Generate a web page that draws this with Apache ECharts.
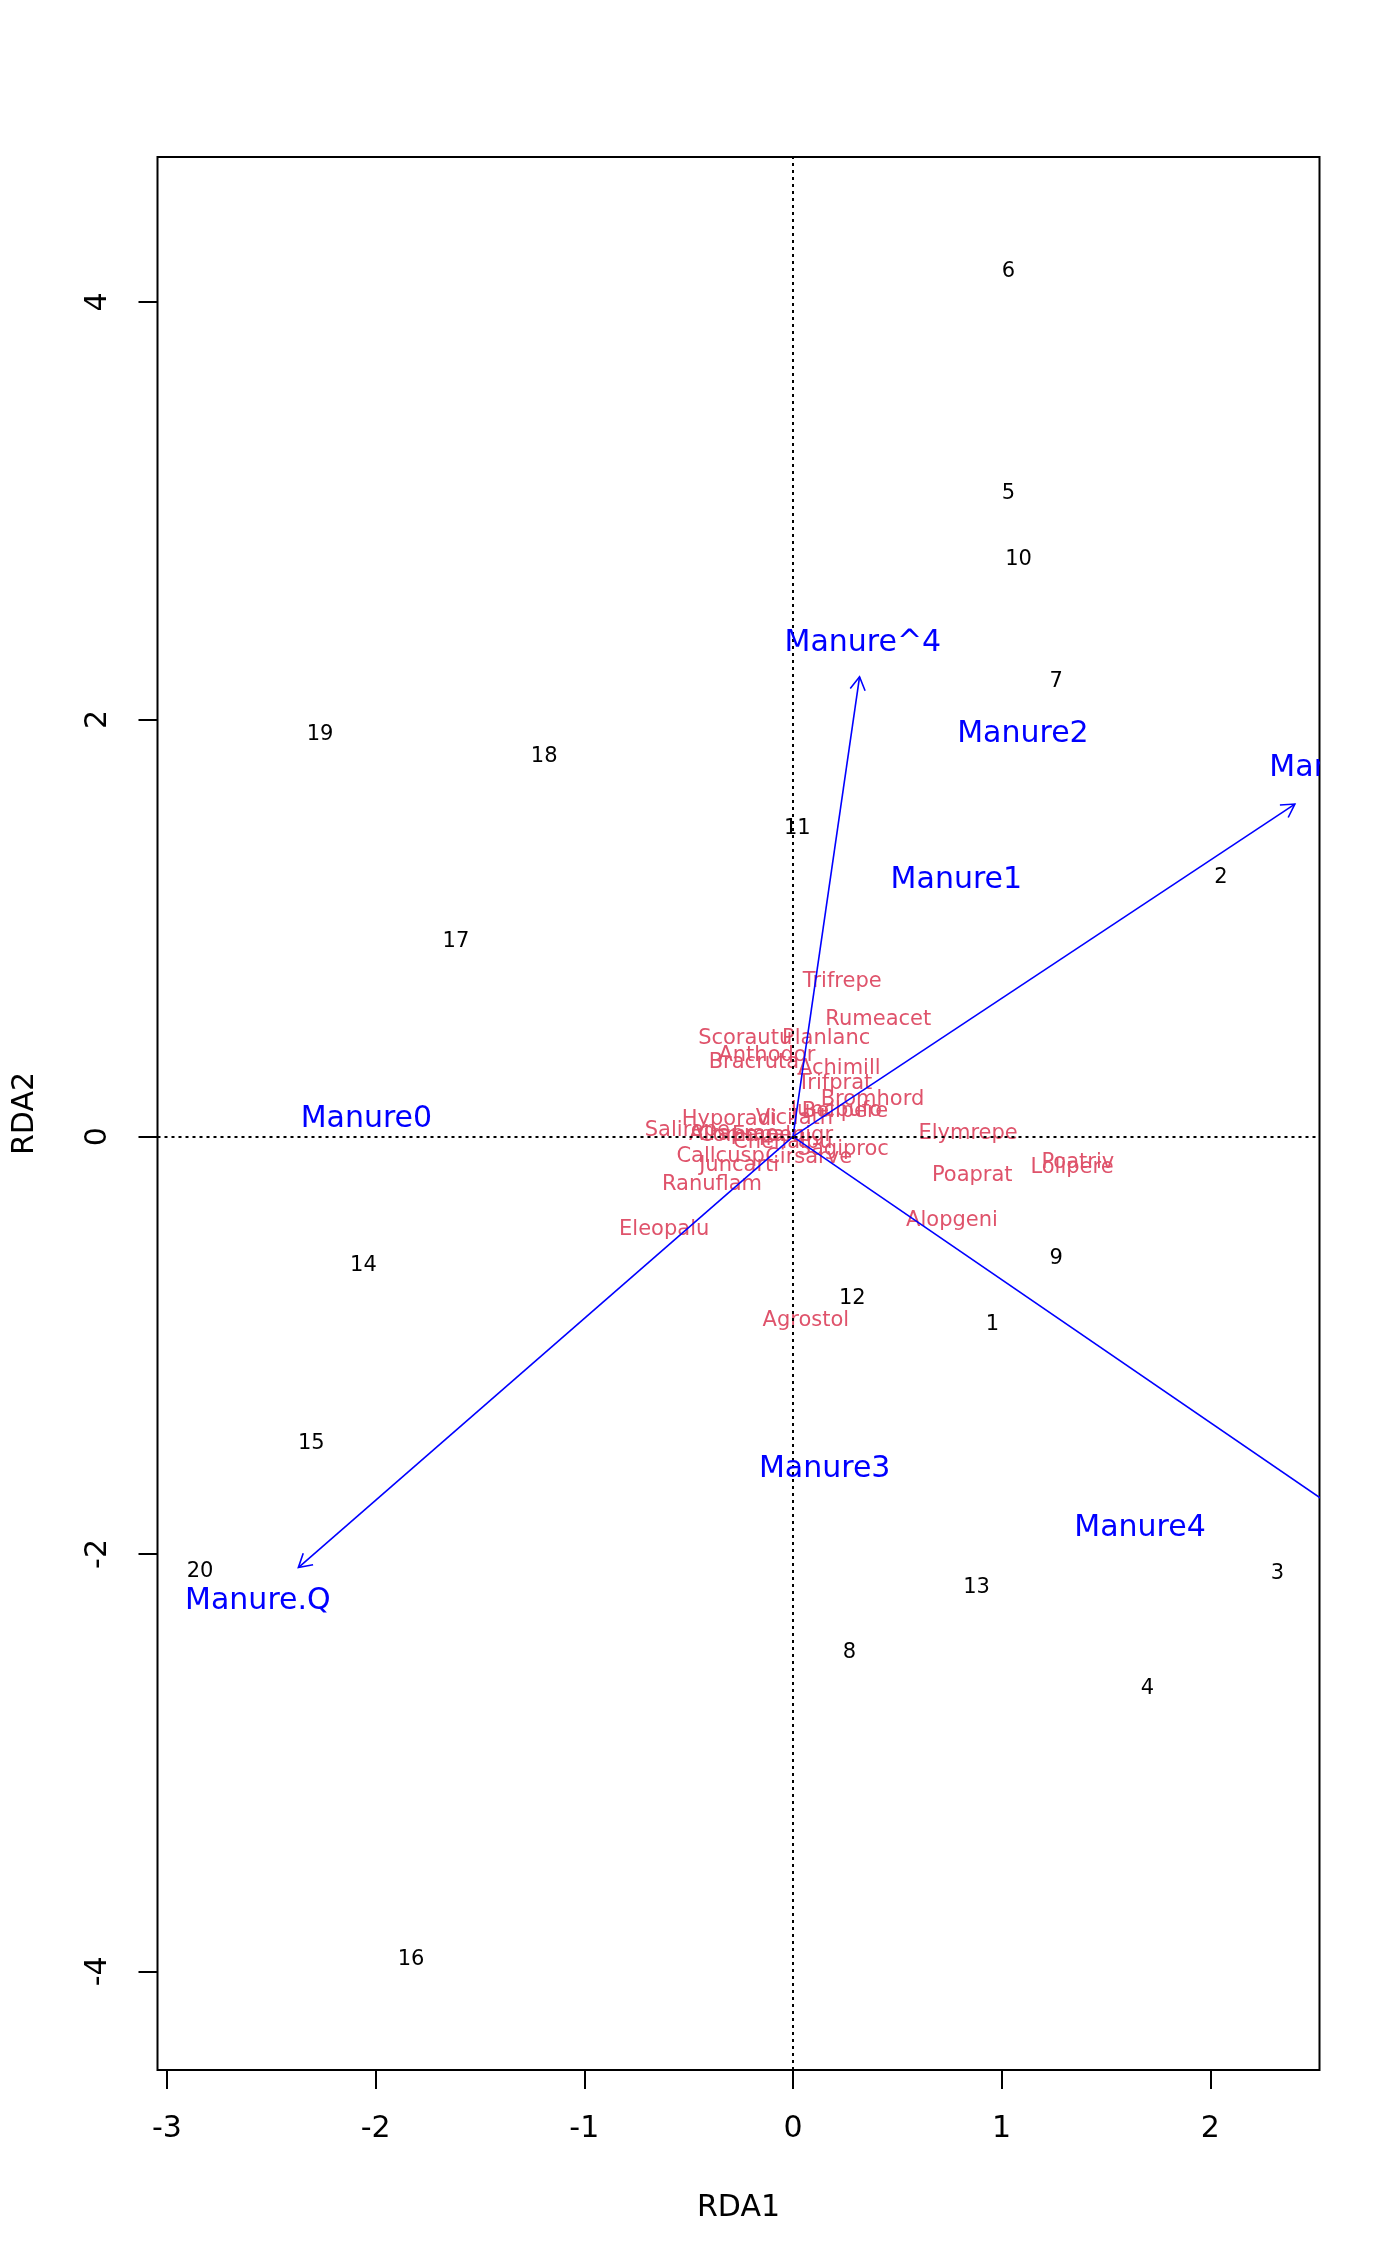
<!DOCTYPE html>
<html lang="en">
<head>
	<meta charset="UTF-8">
	<title>RDA biplot</title>
	<script src="https://cdn.jsdelivr.net/npm/echarts@6/dist/echarts.min.js"></script>
	<style>
		body { margin: 0; background: #fff; }
		#chart { width: 1400px; height: 2266px; }
	</style>
</head>
<body>
	<div id="chart"></div>
	<script>
		// 轴刻度
		var xTicks = [-3, -2, -1, 0, 1, 2];
		var yTicks = [-4, -2, 0, 2, 4];

		// 样点 (sites)
		var siteNames = ['6', '5', '10', '7', '19', '18', '11', '2', '17', '14',
			'9', '12', '1', '15', '20', '13', '3', '8', '4', '16'];
		var siteX = [1.033, 1.033, 1.081, 1.261, -2.266, -1.192, 0.021, 2.051, -1.615, -2.058,
			1.261, 0.284, 0.956, -2.308, -2.841, 0.880, 2.322, 0.270, 1.698, -1.830];
		var siteY = [4.144, 3.084, 2.765, 2.183, 1.927, 1.823, 1.476, 1.240, 0.936, -0.617,
			-0.582, -0.776, -0.901, -1.469, -2.086, -2.162, -2.093, -2.474, -2.647, -3.943];

		// 物种 (species)
		var speciesNames = ['Trifrepe', 'Rumeacet', 'Scorautu', 'Planlanc', 'Anthodor', 'Bracruta',
			'Achimill', 'Trifprat', 'Bromhord', 'Juncbufo', 'Bellpere', 'Hyporadi', 'Vicilath',
			'Salirepe', 'Airaprae', 'Comapalu', 'Empenigr', 'Elymrepe', 'Chenalbu', 'Sagiproc',
			'Cirsarve', 'Callcusp', 'Juncarti', 'Ranuflam', 'Eleopalu', 'Poaprat', 'Lolipere',
			'Poatriv', 'Alopgeni', 'Agrostol'];
		var speciesX = [0.236, 0.409, -0.229, 0.159, -0.125, -0.187,
			0.222, 0.201, 0.381, 0.208, 0.249, -0.305, 0.007,
			-0.506, -0.284, -0.200, -0.050, 0.839, -0.049, 0.241,
			0.075, -0.347, -0.258, -0.388, -0.617, 0.859, 1.337,
			1.365, 0.762, 0.062];
		var speciesY = [0.742, 0.561, 0.471, 0.471, 0.388, 0.353,
			0.326, 0.256, 0.180, 0.125, 0.118, 0.080, 0.085,
			0.030, 0.010, 0.005, 0.005, 0.014, -0.028, -0.062,
			-0.099, -0.097, -0.139, -0.229, -0.444, -0.187, -0.146,
			-0.125, -0.402, -0.880];

		// 箭头 (biplot)
		var arrowNames = ['Manure^4', 'Manure.L', 'Manure.C', 'Manure.Q'];
		var arrowX = [0.319, 2.405, 3.000, -2.370];
		var arrowY = [2.204, 1.594, -2.056, -2.065];
		var arrowLabelX = [0.335, 2.615, 3.230, -2.564];
		var arrowLabelY = [2.363, 1.767, -2.215, -2.224];

		// 质心 (centroids)
		var centroidNames = ['Manure0', 'Manure1', 'Manure2', 'Manure3', 'Manure4'];
		var centroidX = [-2.044, 0.783, 1.102, 0.152, 1.663];
		var centroidY = [0.083, 1.227, 1.927, -1.594, -1.878];

		var FONT = 'DejaVu Sans';

		function pairs(xs, ys) {
			return xs.map(function (x, i) { return [x, ys[i]]; });
		}

		function textRenderer(names, color, size) {
			return function (params, api) {
				var p = api.coord([api.value(0), api.value(1)]);
				return {
					type: 'text',
					x: p[0],
					y: p[1],
					style: {
						text: names[params.dataIndex],
						fill: color,
						fontSize: size,
						fontFamily: FONT,
						align: 'center',
						verticalAlign: 'middle'
					}
				};
			};
		}

		function renderArrow(params, api) {
			var o = api.coord([0, 0]);
			var e = api.coord([api.value(0), api.value(1)]);
			var ang = Math.atan2(e[1] - o[1], e[0] - o[0]);
			var h = 15, a = Math.PI / 6;
			var st = { stroke: '#0000ff', lineWidth: 1.6, fill: null };
			return {
				type: 'group',
				children: [
					{ type: 'line', shape: { x1: o[0], y1: o[1], x2: e[0], y2: e[1] }, style: st },
					{ type: 'polyline', shape: { points: [
						[e[0] - h * Math.cos(ang - a), e[1] - h * Math.sin(ang - a)],
						[e[0], e[1]],
						[e[0] - h * Math.cos(ang + a), e[1] - h * Math.sin(ang + a)]
					] }, style: st }
				]
			};
		}

		var chart = echarts.init(document.getElementById('chart'));
		chart.setOption({
			animation: false,
			textStyle: { fontFamily: FONT },
			grid: {
				left: 157.5, top: 157, width: 1162, height: 1913,
				show: true, borderColor: '#000', borderWidth: 2, backgroundColor: 'transparent'
			},
			xAxis: {
				type: 'value', min: -3.045, max: 2.523,
				name: 'RDA1', nameLocation: 'middle', nameGap: 123,
				nameTextStyle: { color: '#000', fontSize: 30, fontFamily: FONT },
				axisLine: { show: false, onZero: false },
				splitLine: { show: false },
				axisTick: { show: true, inside: false, length: 19, customValues: xTicks,
					lineStyle: { color: '#000', width: 2 } },
				axisLabel: { customValues: xTicks, margin: 44, color: '#000', fontSize: 30, fontFamily: FONT,
					showMinLabel: true, showMaxLabel: true }
			},
			yAxis: {
				type: 'value', min: -4.473, max: 4.695,
				name: 'RDA2', nameLocation: 'middle', nameGap: 117,
				nameTextStyle: { color: '#000', fontSize: 30, fontFamily: FONT },
				axisLine: { show: false, onZero: false },
				splitLine: { show: false },
				axisTick: { show: true, inside: false, length: 19, customValues: yTicks,
					lineStyle: { color: '#000', width: 2 } },
				axisLabel: { customValues: yTicks, margin: 44, rotate: 90, color: '#000', fontSize: 30, fontFamily: FONT,
					showMinLabel: true, showMaxLabel: true }
			},
			series: [
				{
					name: 'species', type: 'custom', z: 2,
					data: pairs(speciesX, speciesY),
					renderItem: textRenderer(speciesNames, '#DF536B', 21),
					markLine: {
						silent: true, symbol: 'none', label: { show: false },
						lineStyle: { color: '#000', type: [3, 4], width: 2 },
						data: [{ xAxis: 0 }, { yAxis: 0 }]
					}
				},
				{
					name: 'sites', type: 'custom', z: 3,
					data: pairs(siteX, siteY),
					renderItem: textRenderer(siteNames, '#000', 21)
				},
				{
					name: 'arrows', type: 'custom', z: 4, clip: true,
					data: pairs(arrowX, arrowY),
					renderItem: renderArrow
				},
				{
					name: 'arrowLabels', type: 'custom', z: 5, clip: true,
					data: pairs(arrowLabelX, arrowLabelY),
					renderItem: textRenderer(arrowNames, '#0000ff', 30)
				},
				{
					name: 'centroids', type: 'custom', z: 5,
					data: pairs(centroidX, centroidY),
					renderItem: textRenderer(centroidNames, '#0000ff', 30)
				}
			]
		});
	</script>
</body>
</html>
